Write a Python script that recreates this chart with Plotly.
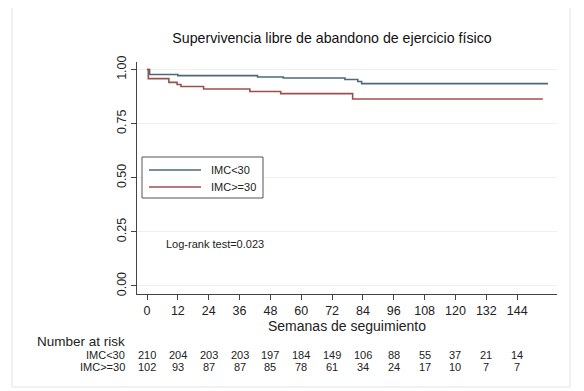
import plotly.graph_objects as go

# ---- data ----
groups = ["IMC<30", "IMC>=30"]
time_lo = [0, 1, 12, 43, 53, 77, 82, 83.5, 156]
surv_lo = [1.0, 0.977, 0.972, 0.966, 0.961, 0.954, 0.945, 0.935, 0.935]
time_hi = [0, 0.5, 8.5, 11.7, 13.2, 22, 40, 52, 80, 154]
surv_hi = [1.0, 0.958, 0.941, 0.931, 0.922, 0.910, 0.899, 0.889, 0.864, 0.864]
x_ticks = [0, 12, 24, 36, 48, 60, 72, 84, 96, 108, 120, 132, 144]
y_ticks = [0.0, 0.25, 0.5, 0.75, 1.0]
y_tick_labels = ["0.00", "0.25", "0.50", "0.75", "1.00"]
risk_lo = [210, 204, 203, 203, 197, 184, 149, 106, 88, 55, 37, 21, 14]
risk_hi = [102, 93, 87, 87, 85, 78, 61, 34, 24, 17, 10, 7, 7]
title_text = "Supervivencia libre de abandono de ejercicio físico"
x_title = "Semanas de seguimiento"
logrank_text = "Log-rank test=0.023"

colors = ["#4b6a7b", "#9e4f4c"]
FONT = "Liberation Sans, Arial, sans-serif"

fig = go.Figure()
fig.add_trace(go.Scatter(x=time_lo, y=surv_lo, mode="lines", line_shape="hv",
                         line=dict(color=colors[0], width=1.6), name=groups[0], showlegend=False))
fig.add_trace(go.Scatter(x=time_hi, y=surv_hi, mode="lines", line_shape="hv",
                         line=dict(color=colors[1], width=1.6), name=groups[1], showlegend=False))

# geometry (window pixel coords; page body has an 8px margin)
OFF = 8
WIN_W, WIN_H = 584, 391
W, H = WIN_W - OFF, WIN_H - OFF
L, R, T, B = 137, 557, 62, 294
def px(x):
    return (x - L) / (R - L)
def py(y):
    return (B - y) / (B - T)

shapes = []
annotations = []
# outer frame
shapes.append(dict(type="rect", xref="paper", yref="paper", x0=px(12), x1=px(570), y0=py(387), y1=py(7),
                   line=dict(color="#e4e4e4", width=1), layer="below"))
# legend box
shapes.append(dict(type="rect", xref="paper", yref="paper", x0=px(142), x1=px(263), y0=py(198), y1=py(157),
                   line=dict(color="#555555", width=1), fillcolor="white"))
for g, c, yy in zip(groups, colors, [170, 187]):
    shapes.append(dict(type="line", xref="paper", yref="paper", x0=px(149), x1=px(201), y0=py(yy), y1=py(yy),
                       line=dict(color=c, width=1.6)))
    annotations.append(dict(xref="paper", yref="paper", x=px(209), y=py(yy), text=g, showarrow=False,
                            xanchor="left", yanchor="middle", font=dict(size=11, color="#222", family=FONT)))

annotations.append(dict(xref="paper", yref="paper", x=px(164), y=py(244), text=logrank_text, showarrow=False,
                        xanchor="left", yanchor="middle", font=dict(size=11, color="#222", family=FONT)))

# number at risk table
annotations.append(dict(xref="paper", yref="paper", x=px(127), y=py(341), text="Number at risk", showarrow=False,
                        xanchor="right", yanchor="middle", font=dict(size=13.5, color="#222", family=FONT)))
for g, vals, yy in zip(groups, [risk_lo, risk_hi], [355, 367]):
    annotations.append(dict(xref="paper", yref="paper", x=px(127), y=py(yy), text=g, showarrow=False,
                            xanchor="right", yanchor="middle", font=dict(size=11, color="#222", family=FONT)))
    for t, v in zip(x_ticks, vals):
        annotations.append(dict(xref="x", yref="paper", x=t, y=py(yy), text=str(v), showarrow=False,
                                xanchor="center", yanchor="middle", font=dict(size=11, color="#222", family=FONT)))

fig.update_layout(
    width=W, height=H,
    margin=dict(l=L - OFF, r=WIN_W - R, t=T - OFF, b=WIN_H - B),
    paper_bgcolor="white", plot_bgcolor="white",
    title=dict(text=title_text, x=(332 - OFF) / W, xanchor="center", y=1 - (38 - OFF) / H, yanchor="middle",
               font=dict(size=14.2, color="#111", family=FONT)),
    font=dict(family=FONT, color="#222"),
    shapes=shapes, annotations=annotations,
    showlegend=False,
)
fig.update_xaxes(range=[-3.9, 159.5], tickvals=x_ticks, ticks="outside", ticklen=5, tickcolor="#444",
                 showline=True, linecolor="#444", linewidth=1, showgrid=False, zeroline=False,
                 tickfont=dict(size=12.5, color="#222"),
                 title=dict(text=x_title, font=dict(size=14, color="#222"), standoff=1))
fig.update_yaxes(range=[-0.037, 1.035], tickvals=y_ticks, ticktext=y_tick_labels, tickangle=-90,
                 ticks="outside", ticklen=5, tickcolor="#444",
                 showline=True, linecolor="#444", linewidth=1, showgrid=True, gridcolor="#efefef",
                 zeroline=False, tickfont=dict(size=12.5, color="#222"))

fig.write_html("out.html")
